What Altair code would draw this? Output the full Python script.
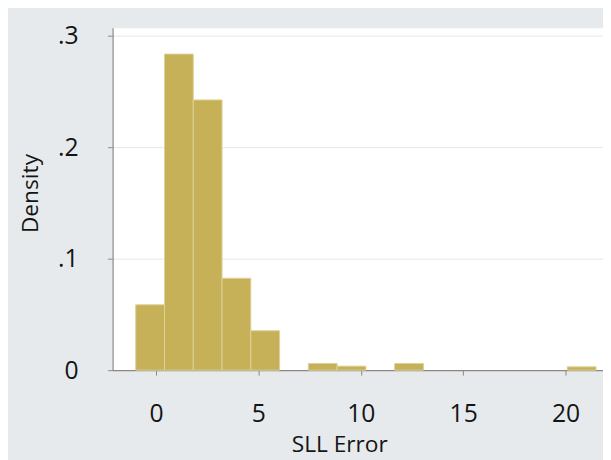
import altair as alt
import pandas as pd

# Histogram of SLL Error (density scale), bins of width ~1.405 starting at ~-0.99
bin_start = [-0.99, 0.415, 1.82, 3.225, 4.63, 7.44, 8.845, 11.655, 20.085]
bin_width = 1.405
density = [0.0587, 0.2838, 0.2426, 0.0825, 0.0354, 0.0060, 0.0036, 0.0060, 0.0030]

x_ticks = [0, 5, 10, 15, 20]
y_ticks = [0, 0.1, 0.2, 0.3]

df = pd.DataFrame({"start": bin_start, "density": density})
df["end"] = df["start"] + bin_width

axis_col = "#8e8686"
txt_col = "#141414"
font = "Open Sans"

bars = alt.Chart(df).mark_rect(
    color="#c6b158", stroke="#ddd196", strokeWidth=1
).encode(
    x=alt.X(
        "start:Q",
        scale=alt.Scale(domain=[-2.12, 21.83], nice=False, zero=False),
        axis=alt.Axis(
            values=x_ticks, grid=False, domainColor=axis_col, domainWidth=1.2,
            tickColor=axis_col, tickSize=5, labelPadding=27, labelFontSize=25,
            labelFont=font, labelColor=txt_col, labelFlush=False, labelOverlap=False,
            title="SLL Error", titleFont=font, titleFontSize=23, titleFontWeight="normal",
            titleColor=txt_col, titleX=229.7, titleY=82, titleBaseline="alphabetic",
            titleAlign="center",
        ),
    ),
    x2="end:Q",
    y=alt.Y(
        "density:Q",
        scale=alt.Scale(domain=[0, 0.3074], nice=False),
        axis=alt.Axis(
            values=y_ticks, grid=True, gridColor="#e3e6e8", gridWidth=1,
            domainColor=axis_col, domainWidth=1.2, tickColor=axis_col, tickSize=5,
            labelPadding=30, labelFontSize=25, labelFont=font, labelColor=txt_col,
            labelFlush=False, labelOverlap=False,
            labelExpr="datum.value == 0 ? '0' : '.' + round(datum.value * 10)",
            title="Density", titleFont=font, titleFontSize=23, titleFontWeight="normal",
            titleColor=txt_col, titleAngle=270, titleX=-83, titleY=167.5,
            titleBaseline="middle", titleAlign="center",
        ),
    ),
    y2=alt.datum(0),
)

chart = bars.properties(
    width=497,
    height=347,
    autosize=alt.AutoSizeParams(type="none"),
    padding={"left": 106, "top": 17, "right": 0, "bottom": 88},
).configure(
    background="#e6eaec",
).configure_view(
    fill="white", stroke="transparent"
)

chart.save("out.html", embed_options={"renderer": "svg", "actions": False})
